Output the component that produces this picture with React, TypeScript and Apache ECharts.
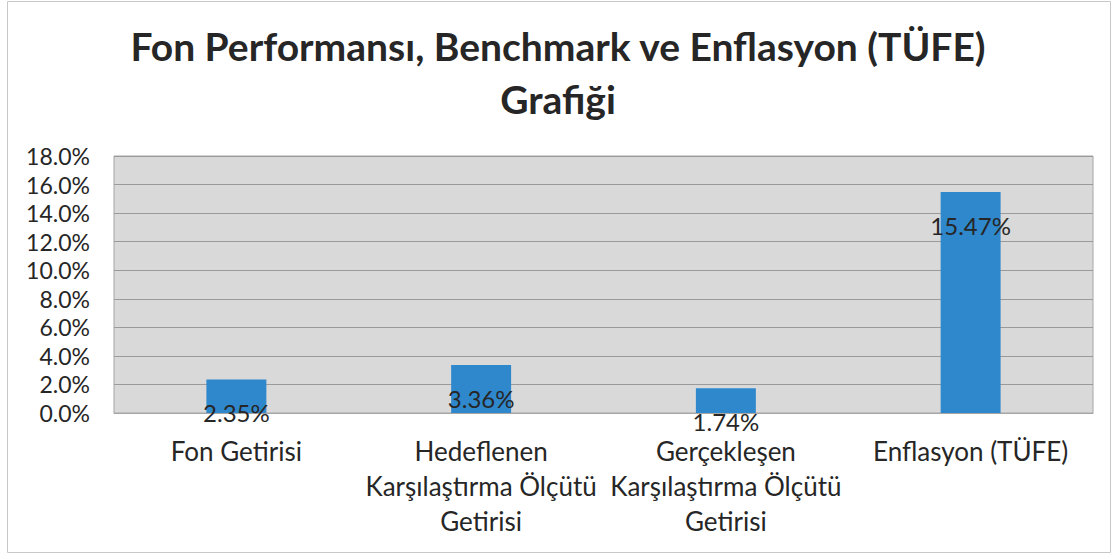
import React, { useEffect, useRef } from "react";
import * as echarts from "echarts";

const titleText = "Fon Performansı, Benchmark ve Enflasyon (TÜFE)\nGrafiği";
const categories = [
  "Fon Getirisi",
  "Hedeflenen\nKarşılaştırma Ölçütü\nGetirisi",
  "Gerçekleşen\nKarşılaştırma Ölçütü\nGetirisi",
  "Enflasyon (TÜFE)",
];
const values = [2.35, 3.36, 1.74, 15.47];
const yMin = 0;
const yMax = 18;
const yStep = 2;

const FONT = "Lato, 'Open Sans', 'DejaVu Sans', sans-serif";

export default function App() {
  const ref = useRef<HTMLDivElement>(null);
  useEffect(() => {
    if (!ref.current) return;
    const chart = echarts.init(ref.current, null, { renderer: "svg" });
    chart.setOption({
      animation: false,
      backgroundColor: "#ffffff",
      textStyle: { fontFamily: FONT },
      title: {
        text: titleText,
        left: "center",
        top: 14,
        textStyle: {
          fontFamily: FONT,
          fontSize: 39,
          fontWeight: "bold",
          color: "#262626",
          lineHeight: 53,
        },
      },
      graphic: [
        {
          type: "rect",
          shape: { x: 7.5, y: 1.5, width: 1103, height: 551 },
          style: { fill: "none", stroke: "#c8c8c8", lineWidth: 1 },
          silent: true,
        },
      ],
      grid: {
        left: 114,
        right: 23,
        top: 156,
        bottom: 146,
        show: true,
        backgroundColor: "#d9d9d9",
        borderColor: "#a6a6a6",
        borderWidth: 1,
      },
      xAxis: {
        type: "category",
        data: categories,
        axisLine: { show: true, lineStyle: { color: "#a6a6a6" } },
        axisTick: { show: false },
        axisLabel: {
          interval: 0,
          fontFamily: FONT,
          fontSize: 26,
          color: "#262626",
          lineHeight: 35,
          margin: 20,
        },
      },
      yAxis: {
        type: "value",
        min: yMin,
        max: yMax,
        interval: yStep,
        axisLine: { show: false },
        axisTick: { show: false },
        splitLine: { show: true, lineStyle: { color: "#9a9a9a", width: 1 } },
        axisLabel: {
          fontFamily: FONT,
          fontSize: 23,
          color: "#262626",
          margin: 24,
          formatter: (v: number) => v.toFixed(1) + "%",
        },
      },
      series: [
        {
          type: "bar",
          data: values,
          barWidth: "24.5%",
          itemStyle: { color: "#2f88cc" },
          label: {
            show: true,
            position: "insideTop",
            offset: [0, 16],
            fontFamily: FONT,
            fontSize: 24,
            color: "#262626",
            formatter: (p: any) => Number(p.value).toFixed(2) + "%",
          },
        },
      ],
    });
    return () => chart.dispose();
  }, []);
  return (
    <div
      ref={ref}
      style={{ position: "fixed", left: 0, top: 0, width: 1116, height: 559 }}
    />
  );
}
